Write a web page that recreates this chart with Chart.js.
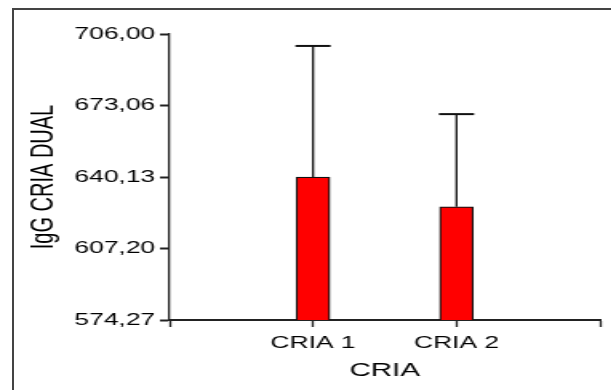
<!DOCTYPE html>
<html>
<head>
<meta charset="utf-8">
<script src="https://cdn.jsdelivr.net/npm/chart.js@4"></script>
<style>
  body { margin: 0; background: #fff; overflow: hidden; }
  #frame { position: absolute; left: 12px; top: 8px; width: 700px; height: 500px;
           border-left: 2px solid #444; border-top: 2px solid #444; }
  #wrap { position: absolute; left: 0; top: 0; width: 382px; height: 390px;
          transform: scaleX(1.6); transform-origin: 0 0; }
</style>
</head>
<body>
<div id="frame"></div>
<div id="wrap"><canvas id="chart" width="382" height="390"></canvas></div>
<script>
// data
const categories = ["CRIA 1", "CRIA 2"];
const means = [640.1, 626.4];
const upper = [700.5, 669.1];
const yTicks = [574.27, 607.20, 640.13, 673.06, 706.00];

const FONT = "'Liberation Sans', Arial, sans-serif";

// error bars on top of the bars
const errorBars = {
  id: "errorBars",
  afterDatasetsDraw(chart) {
    const ctx = chart.ctx;
    const y = chart.scales.y;
    const meta = chart.getDatasetMeta(0);
    ctx.save();
    ctx.strokeStyle = "#111";
    categories.forEach((c, i) => {
      const x = meta.data[i + 1].x;
      const yb = y.getPixelForValue(means[i]);
      const yt = y.getPixelForValue(upper[i]);
      ctx.lineWidth = 1.3;
      ctx.beginPath();
      ctx.moveTo(x, yb);
      ctx.lineTo(x, yt);
      ctx.stroke();
      ctx.lineWidth = 2;
      ctx.beginPath();
      ctx.moveTo(x - 11, yt);
      ctx.lineTo(x + 11, yt);
      ctx.stroke();
    });
    ctx.restore();
  },
};

new Chart(document.getElementById("chart"), {
  type: "bar",
  data: {
    labels: ["", ...categories, ""],
    datasets: [
      {
        data: [null, ...means, null],
        backgroundColor: "#ff0000",
        borderColor: "#111",
        borderWidth: 1.3,
        barThickness: 21,
      },
    ],
  },
  options: {
    responsive: false,
    animation: false,
    layout: { padding: { top: 34, right: 2, left: 0, bottom: 0 } },
    plugins: { legend: { display: false }, tooltip: { enabled: false } },
    scales: {
      x: {
        offset: false,
        grid: { offset: false, drawOnChartArea: false, drawTicks: true, tickLength: 7, color: "#222", tickWidth: 1.3 },
        border: { display: true, color: "#222", width: 2 },
        ticks: { autoSkip: false, maxRotation: 0, padding: 7, color: "#000", font: { family: FONT, size: 16.5 } },
        title: { display: true, text: "CRIA", color: "#000", font: { family: FONT, size: 18.5 }, padding: { top: 0, bottom: 8 } },
        afterFit: (s) => { s.height = 70; },
      },
      y: {
        min: 574.27,
        max: 706,
        afterBuildTicks: (s) => { s.ticks = yTicks.map((v) => ({ value: v })); },
        grid: { drawOnChartArea: false, drawTicks: true, tickLength: 6, color: "#222", tickWidth: 2 },
        border: { display: true, color: "#222", width: 1.3 },
        ticks: {
          padding: 3,
          color: "#000",
          font: { family: FONT, size: 16.5 },
          callback: (v) => Number(v).toFixed(2).replace(".", ","),
        },
        title: { display: true, text: "IgG CRIA DUAL", color: "#000", font: { family: FONT, size: 20 }, padding: { top: 15, bottom: 0 } },
        afterFit: (s) => { s.width = 106; },
      },
    },
  },
  plugins: [errorBars],
});
</script>
</body>
</html>
